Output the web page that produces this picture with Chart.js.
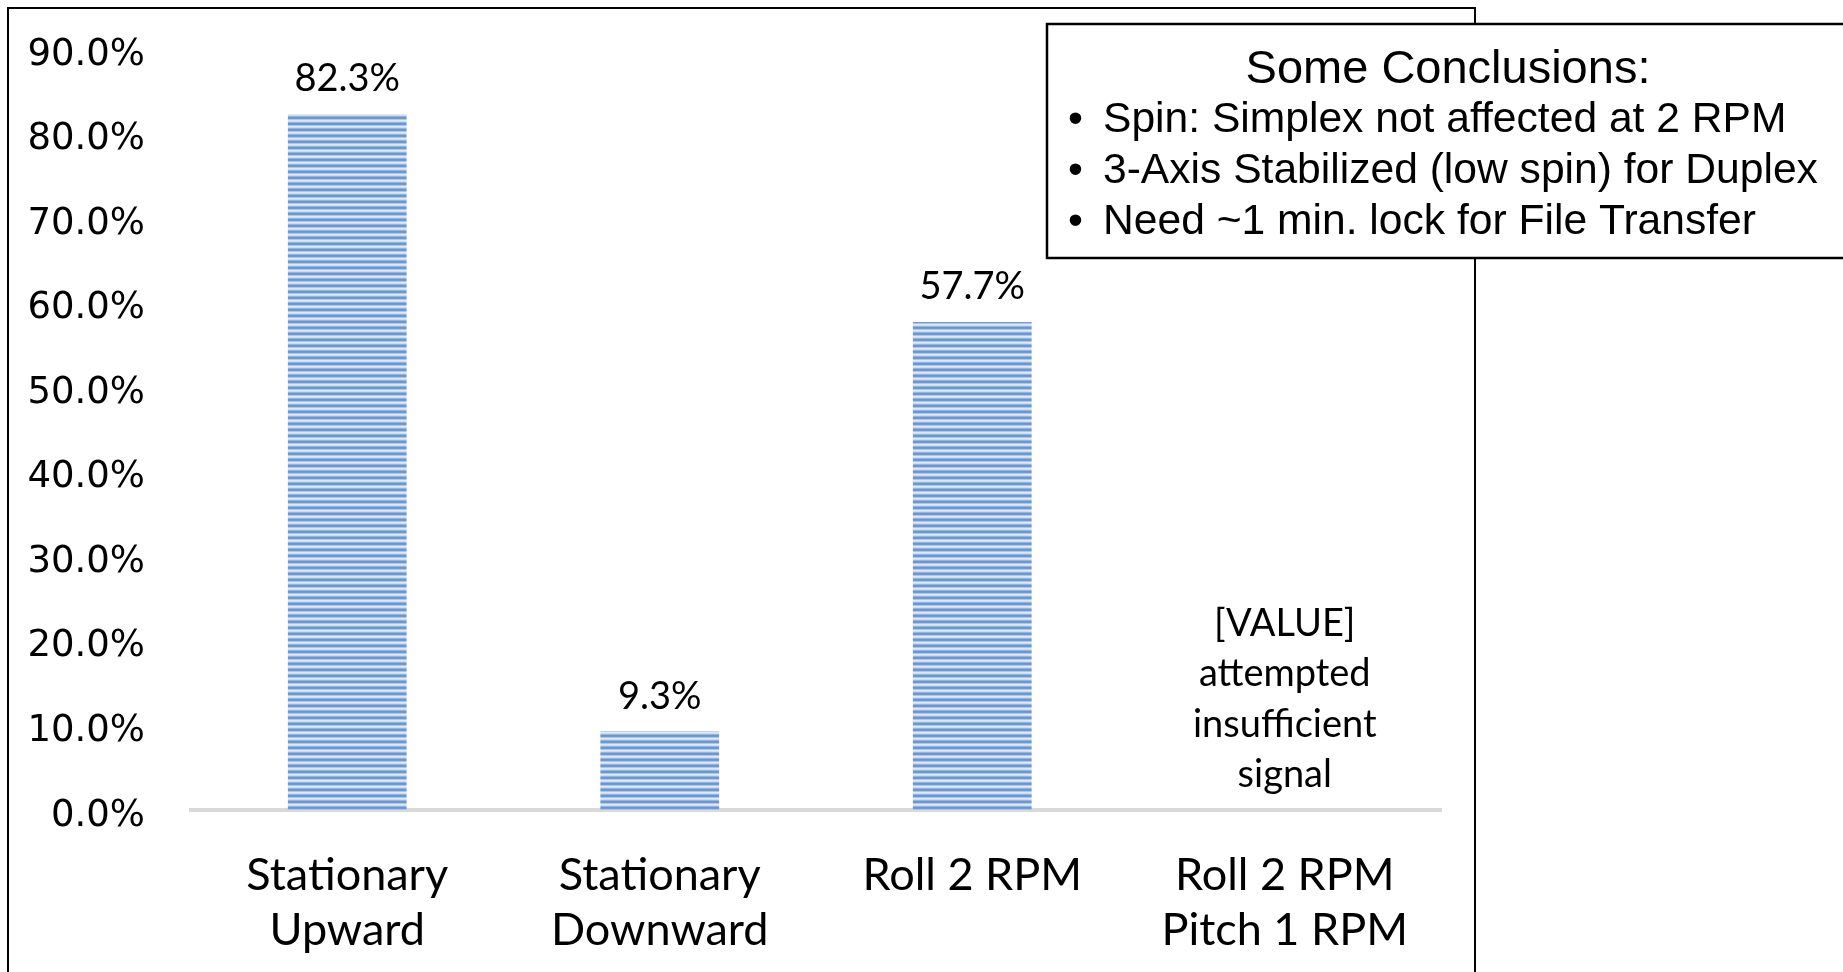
<!DOCTYPE html>
<html>
<head>
<meta charset="utf-8">
<title>Pass success rate</title>
<script src="https://cdn.jsdelivr.net/npm/chart.js@4.4.0/dist/chart.umd.min.js"></script>
<style>
  html, body { margin: 0; padding: 0; background: #fff; }
  #passChart { display: block; }
</style>
</head>
<body>
<canvas id="passChart" width="1843" height="972"></canvas>
<script>
// chart data
var categories = [['Stationary', 'Upward'], ['Stationary', 'Downward'], ['Roll 2 RPM'], ['Roll 2 RPM', 'Pitch 1 RPM']];
var successRate = [82.3, 9.3, 57.7, 0];
var valueLabels = [['82.3%'], ['9.3%'], ['57.7%'], ['[VALUE]', 'attempted', 'insufficient', 'signal']];
var yMin = 0;
var yMax = 90;
var yStep = 10;

// text of the call-out box
var boxTitle = 'Some Conclusions:';
var boxLines = [
    'Spin: Simplex not affected at 2 RPM',
    '3-Axis Stabilized (low spin) for Duplex',
    'Need ~1 min. lock for File Transfer'
];

var canvas = document.getElementById('passChart');
var ctx = canvas.getContext('2d');

/* Excel style horizontal stripe fill for the bars */
function stripes() {
    var c = document.createElement('canvas');
    c.width = 8;
    c.height = 6;
    var g = c.getContext('2d');
    var rows = ['#dfe8f5', '#cddcf1', '#93b5df', '#6894cf', '#6e99d2', '#acc6e7'];
    rows.forEach(function (col, i) {
        g.fillStyle = col;
        g.fillRect(0, i, 8, 1);
    });
    return ctx.createPattern(c, 'repeat');
}

// outer frame of the chart object (bottom runs off the page)
var framePlugin = {
    id: 'frame',
    beforeDraw: function (chart) {
        var c = chart.ctx;
        c.save();
        c.fillStyle = '#fff';
        c.fillRect(0, 0, chart.width, chart.height);
        c.strokeStyle = '#000';
        c.lineWidth = 2;
        c.strokeRect(8, 8, 1467, 1000);
        c.restore();
    }
};

// labels above each bar, last line sits just over the bar
var valueLabelPlugin = {
    id: 'valueLabels',
    afterDatasetsDraw: function (chart) {
        var c = chart.ctx;
        var meta = chart.getDatasetMeta(0);
        c.save();
        c.font = '38px Lato';
        c.fillStyle = '#000';
        c.textAlign = 'center';
        c.textBaseline = 'middle';
        meta.data.forEach(function (bar, i) {
            var lines = valueLabels[i];
            for (var k = 0; k < lines.length; k++) {
                var y = bar.y - 35 - (lines.length - 1 - k) * 50.5;
                c.fillText(lines[k], bar.x, y);
            }
        });
        c.restore();
    }
};

// the "Some Conclusions" text box laid over the top right
var boxPlugin = {
    id: 'conclusions',
    afterDraw: function (chart) {
        var c = chart.ctx;
        var bx = 1047, by = 24, bw = 820, bh = 234;
        c.save();
        c.fillStyle = '#fff';
        c.fillRect(bx, by, bw, bh);
        c.strokeStyle = '#000';
        c.lineWidth = 2.5;
        c.strokeRect(bx, by, bw, bh);

        c.fillStyle = '#000';
        c.textBaseline = 'middle';
        c.textAlign = 'center';
        c.font = '47px "Liberation Sans"';
        c.fillText(boxTitle, 1448, 70);

        c.font = '42.6px "Liberation Sans"';
        c.textAlign = 'left';
        boxLines.forEach(function (line, i) {
            var y = 120.5 + i * 51;
            c.fillText('\u2022', 1068, y);
            c.fillText(line, 1103, y);
        });
        c.restore();
    }
};

var passChart = new Chart(canvas, {
    type: 'bar',
    data: {
        labels: categories,
        datasets: [{
            data: successRate,
            backgroundColor: stripes(),
            borderWidth: 0,
            barPercentage: 0.38,
            categoryPercentage: 1.0
        }]
    },
    options: {
        responsive: false,
        animation: false,
        devicePixelRatio: 1,
        layout: {
            padding: { top: 49, right: 402, left: 0, bottom: 0 }
        },
        plugins: {
            legend: { display: false },
            tooltip: { enabled: false },
            title: { display: false }
        },
        scales: {
            x: {
                grid: { display: false, drawTicks: false },
                border: { display: true, color: '#d9d9d9', width: 4 },
                ticks: {
                    color: '#000',
                    font: { family: 'Lato', size: 45, lineHeight: 1.22 },
                    padding: 38,
                    maxRotation: 0,
                    autoSkip: false
                },
                afterFit: function (scale) {
                    scale.height = 162;
                }
            },
            y: {
                min: yMin,
                max: yMax,
                grid: { display: false, drawTicks: false },
                border: { display: false },
                ticks: {
                    stepSize: yStep,
                    color: '#000',
                    font: { family: 'DejaVu Sans', size: 37 },
                    padding: 46,
                    labelOffset: 6,
                    callback: function (v) {
                        return v.toFixed(1) + '%';
                    }
                },
                afterFit: function (scale) {
                    // keep the tick padding from pushing the plot area down
                    scale.width = 191;
                    scale.paddingTop = 0;
                    scale.paddingBottom = 0;
                }
            }
        }
    },
    plugins: [framePlugin, valueLabelPlugin, boxPlugin]
});
</script>
</body>
</html>
